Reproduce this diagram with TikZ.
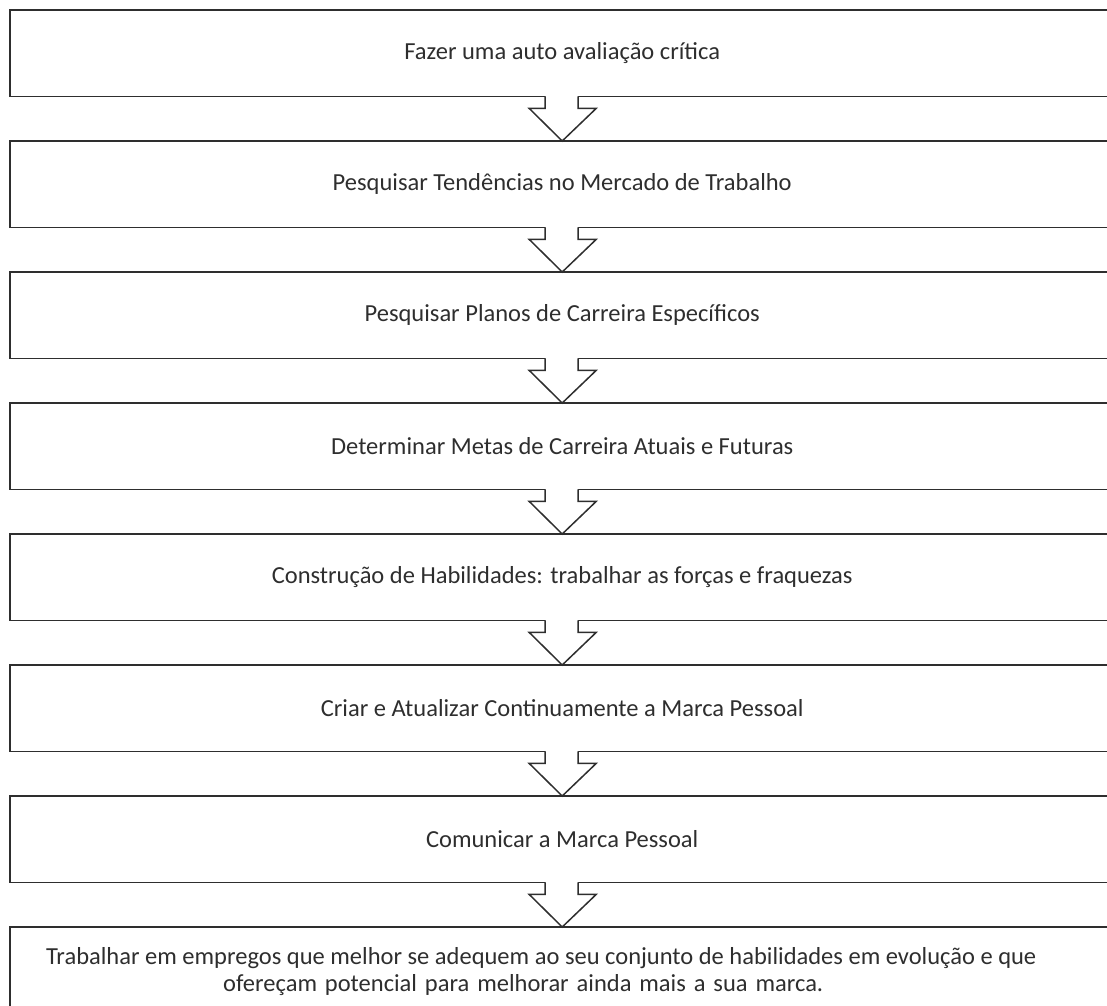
\documentclass[tikz,border=0pt]{standalone}
\usepackage{fontspec}
\setmainfont{Carlito}
\usetikzlibrary{calc}
\begin{document}
\begin{tikzpicture}[x=1pt,y=-1pt,
  stepbox/.style={rectangle, minimum width=1104pt, minimum height=86pt, inner sep=0pt,
    anchor=north west, font=\fontsize{24.5}{27}\selectfont, text=black!82},
  boxline/.style={draw=black!82, line width=1.7pt},
  flowarrow/.style={draw=black!82, line width=1.5pt, fill=white, line join=miter}]
\useasboundingbox (0,0) rectangle (1107,1005);
\clip (0,0) rectangle (1107,1005);
% the eight steps, one below the other
\node[stepbox] (b1) at (10,10)  {\raisebox{-5pt}{Fazer uma auto avaliação crítica}};
\node[stepbox] (b2) at (10,141) {\raisebox{-5pt}{Pesquisar Tendências no Mercado de Trabalho}};
\node[stepbox] (b3) at (10,272) {\raisebox{-5pt}{Pesquisar Planos de Carreira Específicos}};
\node[stepbox] (b4) at (10,403) {\raisebox{-5pt}{Determinar Metas de Carreira Atuais e Futuras}};
\node[stepbox] (b5) at (10,534) {\raisebox{-5pt}{Construção de Habilidades: trabalhar as forças e fraquezas}};
\node[stepbox] (b6) at (10,665) {\raisebox{-5pt}{Criar e Atualizar Continuamente a Marca Pessoal}};
\node[stepbox] (b7) at (10,796) {\raisebox{-5pt}{Comunicar a Marca Pessoal}};
\node[stepbox] (b8) at (10,927) {};
\node[font=\fontsize{24.5}{27}\selectfont, text=black!82, align=center, inner sep=0pt]
  (t8) at ($(b8.center)+(-21,1)$)
  {Trabalhar em empregos que melhor se adequem ao seu conjunto de habilidades em evolução e que\\
   \makebox[600pt][s]{ofereçam potencial para melhorar ainda mais a sua marca.}\hspace*{36pt}};
% box outlines, open to the right
\foreach \b in {b1,b2,b3,b4,b5,b6,b7,b8}{
  \draw[boxline] ($(\b.north east)+(40,0)$) -- (\b.north west) -- (\b.south west)
    -- ($(\b.south east)+(40,0)$);
}
% block arrows linking consecutive steps
\foreach \a/\b in {b1/b2,b2/b3,b3/b4,b4/b5,b5/b6,b6/b7,b7/b8}{
  \fill[white] ($(\a.south)+(-16,-1.5)$) rectangle ($(\a.south)+(16,3)$);
  \draw[flowarrow] ($(\a.south)+(-17,0)$) -- ($(\a.south)+(-17,12)$)
    -- ($(\a.south)+(-33,12)$) -- (\b.north)
    -- ($(\a.south)+(34,12)$) -- ($(\a.south)+(16,12)$) -- ($(\a.south)+(16,0)$);
}
\end{tikzpicture}
\end{document}
